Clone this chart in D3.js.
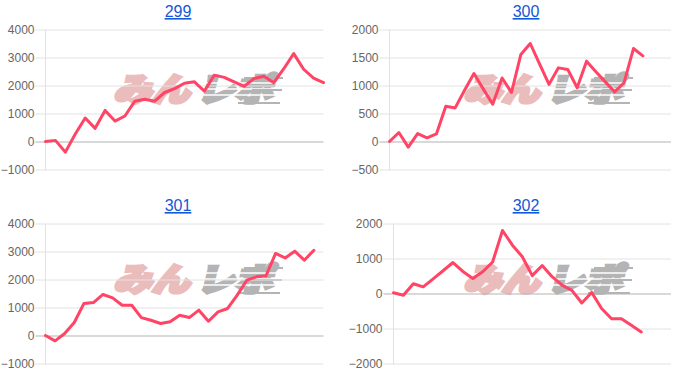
<!DOCTYPE html>
<html>
<head>
<meta charset="utf-8">
<script src="https://cdn.jsdelivr.net/npm/d3@7"></script>
<style>
  html, body { margin: 0; padding: 0; background: #fff; }
  svg { display: block; }
</style>
</head>
<body>
<svg id="chart" width="700" height="386"></svg>
<script>
// ---- data ----
const titles = ["299", "300", "301", "302"];

const days299 = [1,2,3,4,5,6,7,8,9,10,11,12,13,14,15,16,17,18,19,20,21,22,23,24,25,26,27,28,29];
const days300 = [1,2,3,4,5,6,7,8,9,10,11,12,13,14,15,16,17,18,19,20,21,22,23,24,25,26,27,28,29,30,31];
const days301 = [1,2,3,4,5,6,7,8,9,10,11,12,13,14,15,16,17,18,19,20,21,22,23,24,25,26,27,28,29,30];
const days302 = [1,2,3,4,5,6,7,8,9,10,11,12,13,14,15,16,17,18,19,20,21,22,23,24,25,26,27,28,29];

const values299 = [0, 40, -380, 270, 840, 470, 1110, 730, 910, 1440, 1510, 1440, 1750, 1890, 2080,
  2130, 1800, 2370, 2290, 2130, 1970, 2250, 2330, 2100, 2600, 3140, 2580, 2260, 2100];
const values300 = [0, 160, -100, 140, 65, 135, 630, 600, 915, 1215, 935, 665, 1135, 875, 1555,
  1750, 1380, 1020, 1315, 1285, 960, 1435, 1245, 1065, 885, 1050, 1660, 1530];
const values301 = [0, -190, 70, 465, 1140, 1175, 1465, 1345, 1080, 1080, 640, 545, 430, 490, 725,
  640, 905, 510, 845, 965, 1440, 1975, 2095, 2130, 2930, 2770, 3010, 2690, 3045];
const values302 = [20, -50, 280, 190, 420, 650, 885, 630, 430, 620, 900, 1800, 1380, 1050, 510,
  800, 480, 240, 90, -270, 30, -430, -720, -720, -910, -1100];

const ticks299 = [-1000, 0, 1000, 2000, 3000, 4000];
const ticks300 = [-500, 0, 500, 1000, 1500, 2000];
const ticks301 = [-1000, 0, 1000, 2000, 3000, 4000];
const ticks302 = [-2000, -1000, 0, 1000, 2000];

// ---- layout (positions only) ----
const panels = [
  { title: titles[0], days: days299, values: values299, ticks: ticks299, x0: 45.5, x1: 323.5, yTop: 29.5, yBot: 169.5, ox: 0, oy: 0, tx: 178, ty: 17 },
  { title: titles[1], days: days300, values: values300, ticks: ticks300, x0: 389.5, x1: 671, yTop: 29.5, yBot: 169.5, ox: 350, oy: 0, tx: 526, ty: 17 },
  { title: titles[2], days: days301, values: values301, ticks: ticks301, x0: 45.5, x1: 323.5, yTop: 223.5, yBot: 363.5, ox: 0, oy: 190, tx: 178, ty: 211 },
  { title: titles[3], days: days302, values: values302, ticks: ticks302, x0: 393.5, x1: 671, yTop: 223.5, yBot: 363.5, ox: 350, oy: 190, tx: 526, ty: 211 }
];

const svg = d3.select("#chart");
const font = "'Liberation Sans', Arial, Helvetica, sans-serif";

panels.forEach(p => {
  const g = svg.append("g");

  // watermark logo
  const wm = g.append("g").attr("transform", `translate(${p.ox},${p.oy})`);
  const logoParts = [
    { text: "みん", x: 114, fill: "#ebbcbc" },
    { text: "レポ", x: 197, fill: "#b4b4b4" }
  ];
  logoParts.forEach(part => {
    wm.append("text")
      .attr("x", part.x).attr("y", 101)
      .attr("transform", "skewX(-14) translate(25,0)")
      .attr("font-family", "'Noto Sans CJK JP', sans-serif")
      .attr("font-weight", 900)
      .attr("font-size", 32)
      .attr("textLength", 76).attr("lengthAdjust", "spacingAndGlyphs")
      .attr("fill", part.fill)
      .attr("stroke", part.fill)
      .attr("stroke-width", 3.5)
      .attr("stroke-linejoin", "miter")
      .text(part.text);
  });
  [83, 89, 95].forEach(yy => {
    wm.append("line").attr("x1", 196).attr("x2", 284).attr("y1", yy).attr("y2", yy)
      .attr("stroke", "#fff").attr("stroke-width", 1.4);
  });
  [[244, 283, 78], [252, 282, 90], [238, 280, 103]].forEach(([a, b, yy]) => {
    wm.append("line").attr("x1", a).attr("x2", b).attr("y1", yy).attr("y2", yy)
      .attr("stroke", "#b4b4b4").attr("stroke-width", 2);
  });

  const x = d3.scalePoint().domain(p.days).range([p.x0, p.x1]);
  const y = d3.scaleLinear().domain(d3.extent(p.ticks)).range([p.yBot, p.yTop]);

  // y axis with grid lines
  const axis = d3.axisLeft(y)
    .tickValues(p.ticks)
    .tickSize(-(p.x1 - p.x0 + 10))
    .tickPadding(1)
    .tickFormat(d3.format("d"));
  const ag = g.append("g")
    .attr("transform", `translate(${p.x0 - 10},0)`)
    .call(axis);
  ag.select(".domain").remove();
  ag.selectAll(".tick line")
    .attr("stroke", d => d === 0 ? "#b3b3b3" : "#e2e2e2")
    .attr("stroke-width", 1);
  ag.selectAll(".tick text")
    .attr("fill", "#666")
    .attr("font-family", font)
    .attr("font-size", 12);

  // left border line
  g.append("line")
    .attr("x1", p.x0).attr("x2", p.x0)
    .attr("y1", p.yTop).attr("y2", p.yBot + 1)
    .attr("stroke", "#e2e2e2");

  // data line
  const line = d3.line()
    .x((d, i) => x(p.days[i]))
    .y(d => y(d));
  g.append("path")
    .datum(p.values)
    .attr("d", line)
    .attr("fill", "none")
    .attr("stroke", "#ff4466")
    .attr("stroke-width", 3)
    .attr("stroke-linejoin", "round")
    .attr("stroke-linecap", "round");

  // title (link-like)
  g.append("text")
    .attr("x", p.tx).attr("y", p.ty)
    .attr("text-anchor", "middle")
    .attr("font-family", font)
    .attr("font-size", 16)
    .attr("fill", "#1558d6")
    .style("text-decoration", "underline")
    .text(p.title);
});
</script>
</body>
</html>
